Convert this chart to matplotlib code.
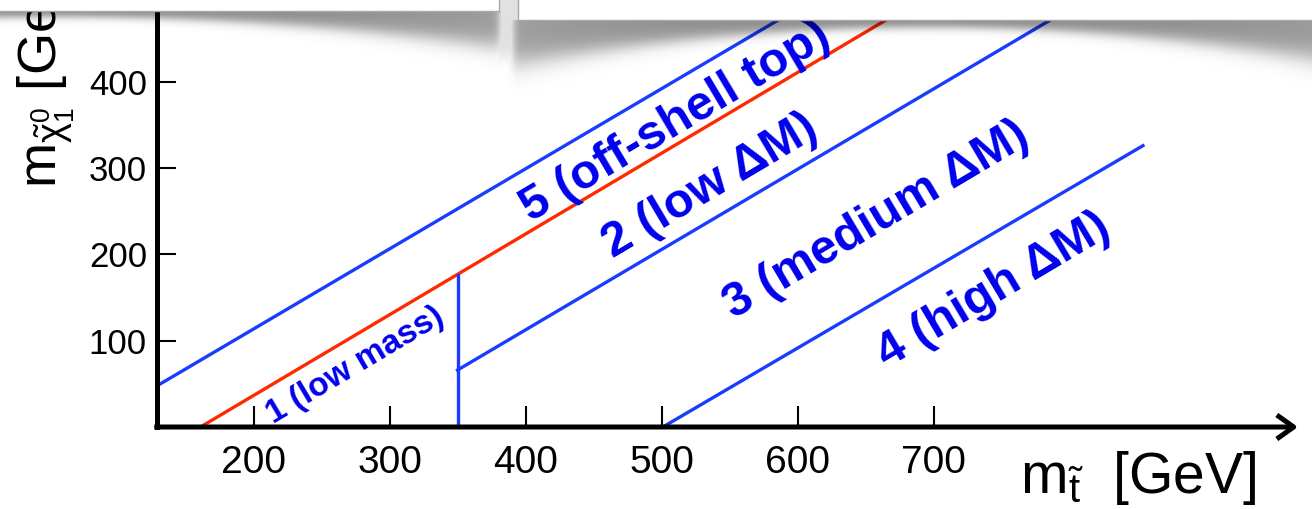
import numpy as np
import matplotlib
matplotlib.use("Agg")
import matplotlib.pyplot as plt
from matplotlib.patches import Rectangle

plt.rcParams['font.family'] = ['Liberation Sans', 'DejaVu Sans']
plt.rcParams['mathtext.fontset'] = 'custom'
plt.rcParams['mathtext.rm'] = 'Liberation Sans'
plt.rcParams['mathtext.it'] = 'Liberation Sans:italic'
plt.rcParams['mathtext.bf'] = 'Liberation Sans:bold'

# region boundaries in the (m_stop, m_LSP) plane [GeV]
offshell_x = [128.8, 611]
offshell_y = [47.5, 495]
top_x = [161, 690]          # m_LSP = m_stop - m_top
top_y = [0, 495]
cut_x = [350, 350]          # low mass / low dM split
cut_y = [0, 176]
mid_x = [350, 811]
mid_y = [66, 495]
high_x = [501, 854]
high_y = [0, 326]

xticks = [200, 300, 400, 500, 600, 700]
yticks = [100, 200, 300, 400]

region_labels = ["1 (low mass)", "2 (low ΔM)", "3 (medium ΔM)",
                 "4 (high ΔM)", "5 (off-shell top)"]
label_x = [275, 536, 658, 744, 510]
label_y = [71, 279, 240, 158, 353]
label_size = [24, 35, 35, 35, 35]

BLUE = "#1a3cff"
RED = "#ff2a00"
TXT = "#0000ee"

W, H = 1312, 509
fig = plt.figure(figsize=(W / 100, H / 100), dpi=100)
ax = fig.add_axes([156.7 / W, (H - 427) / H, (W - 156.7) / W, 427 / H])
ax.set_xlim(128.8, 978.3)
ax.set_ylim(0, 494.8)

for s in ("top", "right", "bottom"):
    ax.spines[s].set_visible(False)
ax.spines["left"].set_linewidth(3.6)

lw = 2.4
ax.plot(offshell_x, offshell_y, color=BLUE, lw=lw)
ax.plot(top_x, top_y, color=RED, lw=lw)
ax.plot(cut_x, cut_y, color=BLUE, lw=lw)
ax.plot(mid_x, mid_y, color=BLUE, lw=lw)
ax.plot(high_x, high_y, color=BLUE, lw=lw)

# x axis with open arrow head
ax.annotate("", xy=(968, 0), xytext=(127, 0), annotation_clip=False,
            arrowprops=dict(arrowstyle="->,head_length=0.45,head_width=0.32",
                            mutation_scale=27, lw=3.6, color="k",
                            shrinkA=0, shrinkB=0, capstyle="butt"))

ax.set_xticks(xticks)
ax.set_yticks(yticks)
ax.tick_params(axis="x", direction="in", length=15, width=1.5, pad=13, labelsize=28)
ax.tick_params(axis="y", direction="in", length=13.7, width=1.5, pad=7, labelsize=25)

# rotate labels along the boundary lines
p = ax.transData.transform([(top_x[0], top_y[0]), (top_x[1], top_y[1])])
ang = np.degrees(np.arctan2(p[1, 1] - p[0, 1], p[1, 0] - p[0, 0]))
for t, x, y, fs in zip(region_labels, label_x, label_y, label_size):
    ax.text(x, y, t, rotation=ang, rotation_mode="anchor", ha="center", va="center",
            fontsize=fs, fontweight="bold", color=TXT)

fig.text(1256 / W, 16 / H, r"$\mathregular{m_{\tilde{t}}}$  [GeV]", ha="right",
         va="baseline", fontsize=41)
fig.text(46 / W, (H - 188) / H, r"$\mathregular{m_{\tilde{\chi}^0_1}}$ [GeV]",
         rotation=90, ha="center", va="bottom", fontsize=39)

# header boxes with drop shadow
ov = fig.add_axes([0, 0, 1, 1], zorder=10)
ov.set_xlim(0, W)
ov.set_ylim(H, 0)
ov.axis("off")

SH = 120
yy, xx = np.mgrid[0:SH, 0:W] + 0.5
alpha = np.zeros((SH, W))


def shade(x0, x1, yb, c, w, dmin, dext, amax):
    u = ((xx - c) / w) ** 2
    d = dmin + dext * u
    a = (amax - 0.08 * u) / (1 + np.exp(((yy - yb) - 0.7 * d) / (0.1 * d + 1.5)))
    a *= 1 / (1 + np.exp((x0 - xx) / 2.5)) / (1 + np.exp((xx - x1) / 2.5))
    a[yy < yb] = 0
    return a


alpha = np.maximum(alpha, shade(-50, 500, 11, 60, 440, 8, 42, 0.47))
alpha = np.maximum(alpha, shade(513, 1400, 20, 930, 400, 10, 48, 0.47))
gap = 0.12 / (1 + np.exp((yy - 58) / 4))
gap *= ((xx > 499) & (xx < 518))
alpha = np.maximum(alpha, gap)
rgba = np.zeros((SH, W, 4))
rgba[..., 3] = np.clip(alpha, 0, 1)
ov.imshow(rgba, extent=(0, W, SH, 0), aspect="auto", interpolation="bilinear")

ov.add_patch(Rectangle((-5, -5), 504, 16, facecolor="white", edgecolor="#a8a8a8", lw=1))
ov.add_patch(Rectangle((518, -5), 800, 25, facecolor="white", edgecolor="#a8a8a8", lw=1))

fig.savefig("out.png", dpi=100)
